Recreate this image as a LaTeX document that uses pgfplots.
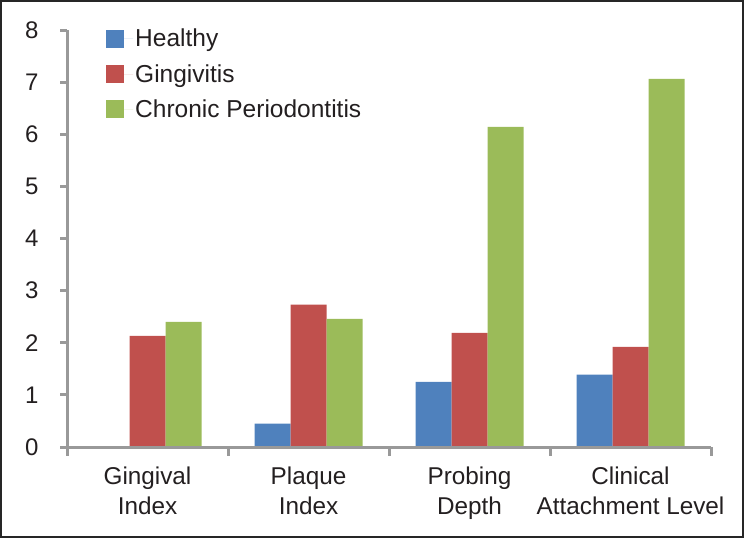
\documentclass[border=0pt]{standalone}
\usepackage{pgfplots}
\pgfplotsset{compat=1.18}
\usepackage{fontspec}
\setmainfont{Liberation Sans}
\definecolor{cblue}{HTML}{4F81BD}
\definecolor{cred}{HTML}{C0504D}
\definecolor{cgreen}{HTML}{9BBB59}
\definecolor{axgray}{HTML}{999999}
\definecolor{txt}{HTML}{231F20}
\begin{document}
\begin{tikzpicture}[x=1pt,y=1pt]
\draw[line width=2pt, black!85] (1,1) rectangle (743,537);
\begin{axis}[
  at={(67pt,91pt)}, anchor=south west,
  scale only axis, width=644pt, height=417pt,
  xmin=-0.5, xmax=3.5, ymin=0, ymax=8,
  clip=false,
  ybar=0pt, bar width=36pt,
  axis lines*=left,
  axis line style={draw=none},
  tick align=outside,
  major tick length=7pt,
  xtick={0,1,2,3},
  xticklabels={Gingival\\Index, Plaque\\Index, Probing\\Depth, Clinical\\Attachment Level},
  xtick style={draw=none},
  ytick={0,1,...,8},
  ytick style={draw=none},
  /pgf/number format/assume math mode=true,
  xticklabel style={align=center, font=\fontsize{24.3}{30}\selectfont, text=txt, yshift=-9pt},
  yticklabel style={font=\fontsize{24}{24}\selectfont, text=txt, xshift=-18pt},
  legend style={at={(rel axis cs:0,1)}, anchor=north west, xshift=36pt, yshift=5pt,
    draw=none, fill=none, font=\fontsize{24.5}{25}\selectfont, text=txt,
    row sep=12pt, legend cell align=left},
  legend image code/.code={\fill[#1, draw=none] (0pt,-9pt) rectangle (18pt,9pt); \path (0pt,0pt) -- (27pt,0pt);},
]
\addplot[fill=cblue, draw=none] coordinates {(1,0.45) (2,1.25) (3,1.39)};
\addplot[fill=cred, draw=none] coordinates {(0,2.13) (1,2.73) (2,2.19) (3,1.92)};
\addplot[fill=cgreen, draw=none] coordinates {(0,2.40) (1,2.46) (2,6.14) (3,7.06)};
\legend{Healthy, Gingivitis, Chronic Periodontitis}
\draw[axgray, line width=3pt] (axis cs:-0.5,8) -- (axis cs:-0.5,0) -- (axis cs:3.5,0);
\pgfplotsinvokeforeach{0,1,2,3,4,5,6,7,8}{\draw[axgray, line width=3pt] (axis cs:-0.5,#1) -- ++(-7pt,0pt);}
\pgfplotsinvokeforeach{-0.5,0.5,1.5,2.5,3.5}{\draw[axgray, line width=3pt] (axis cs:#1,0) -- ++(0pt,-9pt);}
\end{axis}
\end{tikzpicture}
\end{document}
